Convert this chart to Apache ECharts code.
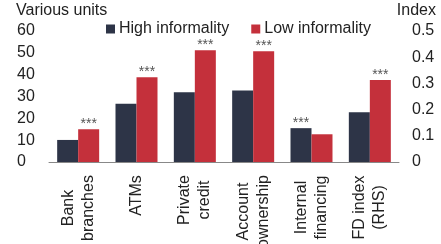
<!DOCTYPE html>
<html>
<head>
<meta charset="utf-8">
<script src="https://cdn.jsdelivr.net/npm/echarts@6/dist/echarts.min.js"></script>
<style>
  html, body { margin: 0; padding: 0; background: #fff; }
  #chart { width: 441px; height: 244px; }
</style>
</head>
<body>
<div id="chart"></div>
<script>
// categories, two lines each
var categories = ['Bank\nbranches', 'ATMs', 'Private\ncredit', 'Account\nownership', 'Internal\nfinancing', 'FD index\n(RHS)'];
// left axis values (various units), last slot is on the right axis
var highInformality = [10.1, 26.7, 32.0, 32.8, 15.5, null];
var lowInformality = [15.0, 38.8, 51.2, 50.7, 12.7, null];
// right axis values (index)
var highIndex = [null, null, null, null, null, 0.19];
var lowIndex = [null, null, null, null, null, 0.313];
// significance markers (***)
var sigHigh = [false, false, false, false, true, false];
var sigLow = [true, true, true, true, false, true];
var leftTicks = { min: 0, max: 60, step: 10 };
var rightTicks = { min: 0, max: 0.5, step: 0.1 };

var FONT = "'Liberation Sans', Arial, sans-serif";
var DARK = '#2d3447';
var RED = '#c4303b';

// measure lines so each label block is centered line by line
var ctx = document.createElement('canvas').getContext('2d');
ctx.font = '16px ' + FONT;
var rich = {};
categories.forEach(function (c, i) {
    var w = 0;
    c.split('\n').forEach(function (l) { w = Math.max(w, ctx.measureText(l).width); });
    rich['c' + i] = { width: Math.ceil(w), align: 'center', fontSize: 16, lineHeight: 20, color: '#222', fontFamily: FONT };
});

function starLabel(flags) {
    return {
        show: true,
        position: 'top',
        distance: -2,
        fontSize: 14,
        color: '#555',
        fontFamily: FONT,
        formatter: function (p) { return flags[p.dataIndex] ? '***' : ''; }
    };
}

var chart = echarts.init(document.getElementById('chart'));
chart.setOption({
    animation: false,
    textStyle: { fontFamily: FONT },
    title: [
        { text: 'Various units', left: 16, top: 3, padding: 0, textStyle: { fontSize: 16, fontWeight: 'normal', color: '#222', fontFamily: FONT } },
        { text: 'Index', right: 5, top: 3, padding: 0, textStyle: { fontSize: 16, fontWeight: 'normal', color: '#222', fontFamily: FONT } }
    ],
    legend: {
        left: 106,
        top: 21,
        padding: 0,
        icon: 'rect',
        itemWidth: 9,
        itemHeight: 9,
        itemGap: 22,
        textStyle: { fontSize: 16, color: '#222', fontFamily: FONT, padding: [0, 0, 0, -1] },
        data: ['High informality', 'Low informality']
    },
    grid: { left: 49, right: 42, top: 31, bottom: 82, containLabel: false, outerBoundsMode: 'none' },
    xAxis: [{
        type: 'category',
        data: categories,
        axisLine: { lineStyle: { color: '#888', width: 1 } },
        axisTick: { show: false },
        axisLabel: {
            interval: 0,
            rotate: 90,
            margin: 13,
            formatter: function (v, i) {
                return v.split('\n').map(function (l) { return '{c' + i + '|' + l + '}'; }).join('\n');
            },
            rich: rich
        }
    }, {
        type: 'category',
        data: categories,
        show: false
    }],
    yAxis: [{
        type: 'value',
        min: leftTicks.min, max: leftTicks.max, interval: leftTicks.step,
        splitLine: { show: false },
        axisLine: { show: false },
        axisTick: { show: false },
        axisLabel: { align: 'left', margin: 32, fontSize: 16, color: '#222', fontFamily: FONT }
    }, {
        type: 'value',
        position: 'right',
        min: rightTicks.min, max: rightTicks.max, interval: rightTicks.step,
        splitLine: { show: false },
        axisLine: { show: false },
        axisTick: { show: false },
        axisLabel: { align: 'left', margin: 13, fontSize: 16, color: '#222', fontFamily: FONT }
    }],
    series: [
        { name: 'High informality', type: 'bar', xAxisIndex: 0, yAxisIndex: 0, data: highInformality, itemStyle: { color: DARK }, barWidth: 21, barGap: '0%', label: starLabel(sigHigh) },
        { name: 'Low informality', type: 'bar', xAxisIndex: 0, yAxisIndex: 0, data: lowInformality, itemStyle: { color: RED }, barWidth: 21, barGap: '0%', label: starLabel(sigLow) },
        { name: 'High informality', type: 'bar', xAxisIndex: 1, yAxisIndex: 1, data: highIndex, itemStyle: { color: DARK }, barWidth: 21, barGap: '0%', label: starLabel(sigHigh) },
        { name: 'Low informality', type: 'bar', xAxisIndex: 1, yAxisIndex: 1, data: lowIndex, itemStyle: { color: RED }, barWidth: 21, barGap: '0%', label: starLabel(sigLow) }
    ]
});
</script>
</body>
</html>
